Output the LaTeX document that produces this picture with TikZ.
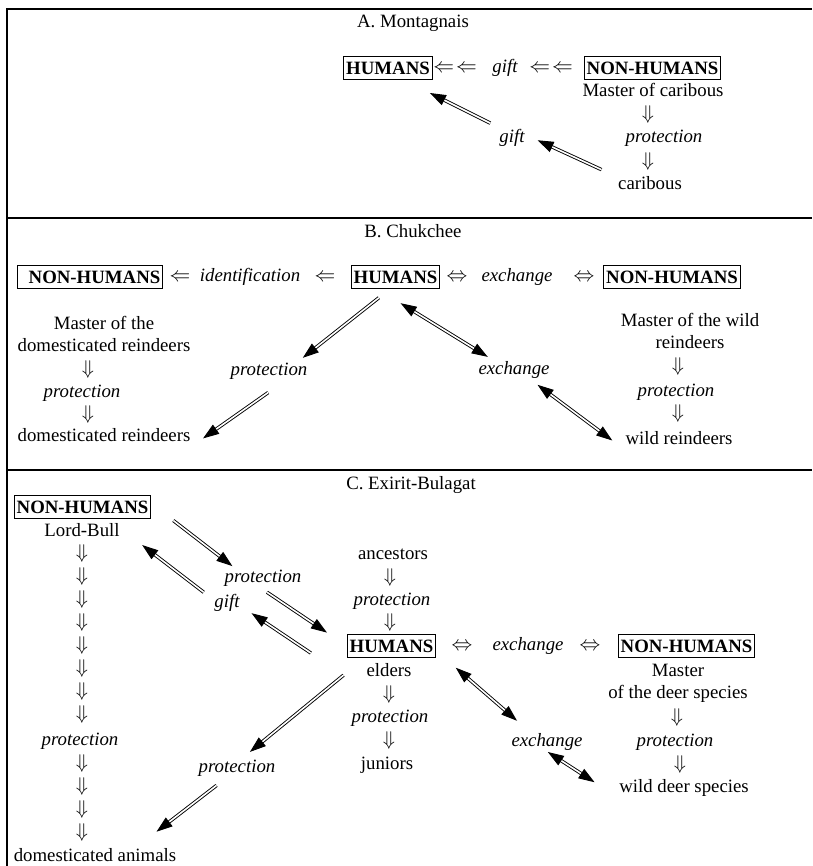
\documentclass[tikz,border=0pt]{standalone}
\usepackage{fontspec}
\usepackage{graphicx}
\setmainfont{Liberation Serif}
\usetikzlibrary{arrows.meta}

\newcommand{\figsize}{\fontsize{18.8}{22}\selectfont}
\newcommand{\arD}{\scalebox{1.15}{$\Downarrow$}}
\newcommand{\arL}{\scalebox{1.2}{$\Leftarrow$}}
\newcommand{\arLR}{\scalebox{1.2}{$\Leftrightarrow$}}

\begin{document}
\begin{tikzpicture}[
    x=1pt,
    y=-1pt,
    >={Triangle[length=16pt,width=11pt]},
    every node/.style={
      font=\figsize,
      inner sep=1pt,
      text height=12.5pt,
      text depth=4pt
    },
    box/.style={
      draw,
      line width=0.7pt,
      inner xsep=2.5pt,
      inner ysep=5.5pt,
      text height=12.4pt,
      text depth=0pt,
      font=\figsize\bfseries
    },
    rel/.style={font=\figsize\itshape},
    two/.style={align=center, text height=34.5pt, text depth=4pt},
    dbl/.style={
      double,
      double distance=1.6pt,
      line width=0.9pt,
      ->
    }
  ]
  \useasboundingbox (0,0) rectangle (812,866);

  % frame
  \draw[line width=1.2pt] (812,9) -- (7,9) -- (7,866);
  \draw[line width=1.2pt] (7,218) -- (812,218);
  \draw[line width=1.2pt] (7,470) -- (812,470);

  % A. Montagnais
  \node (titleA) at (413,23) {A. Montagnais};
  \node[box] (humA) at (388,68) {HUMANS};
  \node (lA1) at (455,68) {\arL\hspace{2pt}\arL};
  \node[rel] (giftA) at (505,68) {gift};
  \node (lA2) at (551,68) {\arL\hspace{2pt}\arL};
  \node[box] (nonA) at (652.5,68) {NON-HUMANS};
  \node (masterA) at (653,92) {Master of caribous};
  \node (dA1) at (648,115) {\arD};
  \node[rel] (protA) at (664,138) {protection};
  \node (dA2) at (648,162) {\arD};
  \node (caribA) at (650,185) {caribous};
  \node[rel] (giftA2) at (512,138) {gift};

  \draw[dbl, shorten <=17pt, shorten >=13pt] (caribA.166) -- (giftA2.13);
  \draw[dbl, shorten <=12pt, shorten >=29pt] (giftA2.139) -- (humA.-37);

  % B. Chukchee
  \node (titleB) at (413,233) {B. Chukchee};
  \node[box] (nonB1) at (90,277) {\hspace*{9pt}NON-HUMANS};
  \node (lB1) at (180,277) {\arL};
  \node[rel] (identB) at (250,277) {identification};
  \node (lB2) at (325,277) {\arL};
  \node[box] (humB) at (395.5,277) {HUMANS};
  \node (lB3) at (457,277) {\arLR};
  \node[rel] (exchB) at (517,277) {exchange};
  \node (lB4) at (584,277) {\arLR};
  \node[box] (nonB2) at (672,277) {NON-HUMANS};

  \node[two] (masterB1) at (104,336) {Master of the\\domesticated reindeers};
  \node (dB1) at (88,370) {\arD};
  \node[rel] (protB1) at (82,393) {protection};
  \node (dB2) at (88,415) {\arD};
  \node (domB) at (104,437) {domesticated reindeers};

  \node[two] (masterB2) at (690,333.5) {Master of the wild\\reindeers};
  \node (dB3) at (678,367) {\arD};
  \node[rel] (protB2) at (676,392) {protection};
  \node (dB4) at (678,414) {\arD};
  \node (wildB) at (679,440) {wild reindeers};

  \node[rel] (protB) at (269,371) {protection};
  \node[rel] (exchB2) at (514,370) {exchange};

  \draw[dbl, shorten <=14pt, shorten >=6pt] (humB.-115) -- (protB.18);
  \draw[dbl, shorten <=21pt, shorten >=14pt] (protB.-30) -- (domB.south east);
  \draw[dbl, <->, shorten <=27pt, shorten >=7pt] (humB.-146) -- (exchB2.155);
  \draw[dbl, <->, shorten <=9pt, shorten >=15pt] (exchB2.-30) -- (wildB.south west);

  % C. Exirit-Bulagat
  \node (titleC) at (411,485) {C. Exirit-Bulagat};
  \node[box] (nonC1) at (82.5,507) {NON-HUMANS};
  \node (lordC) at (82,532) {Lord-Bull};
  \foreach \i in {0,...,7}
    \node (dC\i) at (82,{554+23*\i}) {\arD};
  \node[rel] (protC1) at (80,741) {protection};
  \foreach \i in {8,...,11}
    \node (dC\i) at (82,{764+23*(\i-8)}) {\arD};
  \node (domC) at (95,857) {domesticated animals};

  \node[rel] (protC2) at (263,578) {protection};
  \node[rel] (giftC) at (227,603) {gift};

  \node (ancC) at (393,555) {ancestors};
  \node (dH1) at (390,578) {\arD};
  \node[rel] (protC3) at (392,601) {protection};
  \node (dH2) at (390,623) {\arD};
  \node[box] (humC) at (391.5,646) {HUMANS};
  \node (eldC) at (389,672) {elders};
  \node (dH3) at (389,695) {\arD};
  \node[rel] (protC4) at (390,718) {protection};
  \node (dH4) at (389,741) {\arD};
  \node (junC) at (387,765) {juniors};

  \node (lC1) at (462,646) {\arLR};
  \node[rel] (exchC) at (528,646) {exchange};
  \node (lC2) at (590,646) {\arLR};
  \node[box] (nonC2) at (686.5,646) {NON-HUMANS};
  \node[two] (masterC) at (678,683) {Master\\of the deer species};
  \node (dN1) at (677,718) {\arD};
  \node[rel] (protC5) at (675,742) {protection};
  \node (dN2) at (680,765) {\arD};
  \node (wildC) at (684,788) {wild deer species};

  \node[rel] (protC6) at (237,768) {protection};
  \node[rel] (exchC2) at (547,742) {exchange};

  \draw[dbl, shorten <=28pt, shorten >=4pt] (nonC1.3) -- (protC2.161);
  \draw[dbl, shorten <=12pt, shorten >=27pt] (giftC.166) -- (lordC.5);
  \draw[dbl, shorten <=8.5pt, shorten >=24pt] (protC2.-108) -- (humC.west);
  \draw[dbl, shorten >=13pt] ([shift={(-36,-5)}]humC.south west) -- (giftC.-12);
  \draw[dbl, shorten <=27pt, shorten >=10.5pt] (humC.-156) -- (protC6.63);
  \draw[dbl, shorten <=13pt, shorten >=26pt] (protC6.-137) -- (domC.13);
  \draw[dbl, <->, shorten <=26pt, shorten >=18pt] (humC.-6) -- (exchC2.150);
  \draw[dbl, <->, shorten <=1pt, shorten >=28pt] (exchC2.south) -- (wildC.south west);
\end{tikzpicture}
\end{document}
